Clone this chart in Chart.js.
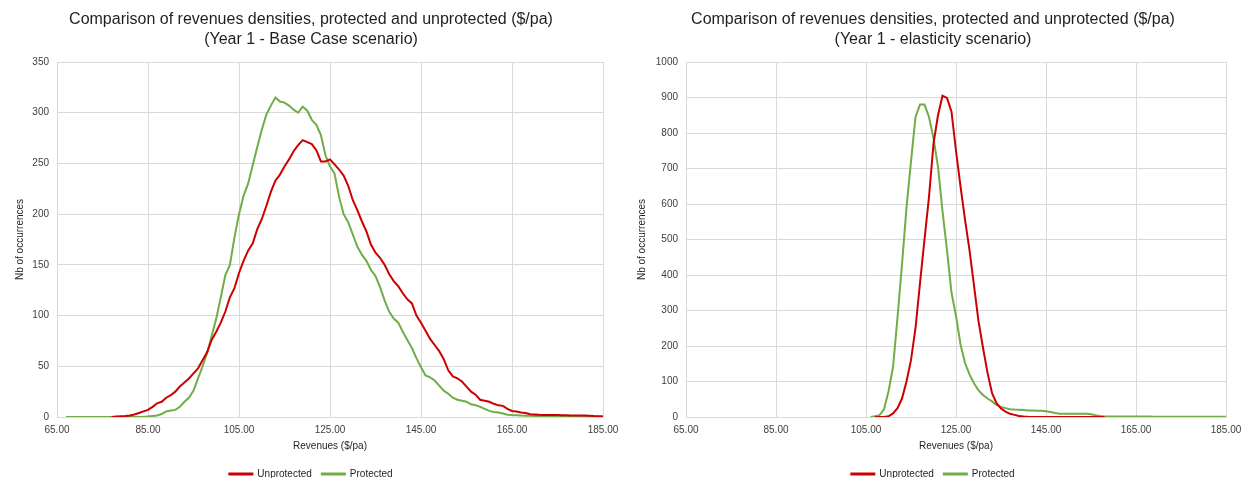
<!DOCTYPE html>
<html>
<head>
<meta charset="utf-8">
<script src="https://cdn.jsdelivr.net/npm/chart.js@4.4.1/dist/chart.umd.min.js"></script>
<style>
  html, body { margin: 0; padding: 0; background: #ffffff; }
  #wrap { position: relative; width: 1244px; height: 478px; }
  .panel { position: absolute; top: 0; width: 622px; height: 478px; }
</style>
</head>
<body>
<div id="wrap">
  <div class="panel" style="left:0"><canvas id="baseCase" width="622" height="478"></canvas></div>
  <div class="panel" style="left:622px"><canvas id="elasticity" width="622" height="478"></canvas></div>
</div>
<script>
// Revenue bins ($/pa), shared by both histograms
const revenueBins = [
  65, 66, 67, 68, 69, 70, 71, 72, 73, 74,
  75, 76, 77, 78, 79, 80, 81, 82, 83, 84,
  85, 86, 87, 88, 89, 90, 91, 92, 93, 94,
  95, 96, 97, 98, 99, 100, 101, 102, 103, 104,
  105, 106, 107, 108, 109, 110, 111, 112, 113, 114,
  115, 116, 117, 118, 119, 120, 121, 122, 123, 124,
  125, 126, 127, 128, 129, 130, 131, 132, 133, 134,
  135, 136, 137, 138, 139, 140, 141, 142, 143, 144,
  145, 146, 147, 148, 149, 150, 151, 152, 153, 154,
  155, 156, 157, 158, 159, 160, 161, 162, 163, 164,
  165, 166, 167, 168, 169, 170, 171, 172, 173, 174,
  175, 176, 177, 178, 179, 180, 181, 182, 183, 184,
  185
];

// Year 1 - Base Case: number of occurrences per bin
const baseUnprotected = [
  null, null, null, null, null, null, null, null, null, null,
  null, null, 0, 0.5, 0.8, 1, 1.5, 2.5, 4, 5.5,
  7, 10, 13.5, 15, 19, 21.5, 25, 30, 34, 38,
  43, 48, 56, 64, 76, 84, 93, 104, 118, 127,
  142, 154, 164, 171, 185, 195, 208, 222, 233, 239,
  247, 254, 262, 268, 273, 271, 269, 263, 252, 252,
  254, 249, 244, 238, 228, 214, 204, 193, 183, 170,
  162, 157, 150, 141, 134, 129, 122, 116, 112, 100,
  93, 85, 77, 71, 65, 57, 46, 40, 38, 35,
  30, 25, 22, 17, 16, 15, 13, 11.5, 11, 8,
  6, 5.5, 4.5, 4, 2.8, 2.5, 2.2, 2, 2, 2,
  2, 1.8, 1.8, 1.5, 1.5, 1.5, 1.4, 1.3, 1, 0.8,
  0.6
];
const baseProtected = [
  null, null, 0, 0, 0, 0, 0, 0, 0, 0,
  0, 0, 0, 0, 0, 0, 0, 0, 0, 0,
  0.5, 1, 1.5, 3, 5.5, 6.5, 7, 10, 15, 19,
  26, 38, 50, 63, 80, 97, 118, 140, 150, 177,
  200, 218, 230, 248, 266, 283, 298, 307, 315, 311,
  310, 307, 303, 300, 306, 302, 293, 288, 278, 258,
  247, 240, 217, 200, 192, 180, 168, 160, 154, 145,
  139, 128, 115, 104, 97, 93, 84, 76, 68, 58,
  49, 41, 39, 36, 31, 26, 23, 19, 17, 16,
  15, 12.5, 11.5, 10, 8, 6, 5, 4.5, 3.5, 2.3,
  2, 1.8, 1.5, 1.3, 1.2, 1.1, 1, 1, 0.9, 0.9,
  0.8, 0.8, 0.8, 0.7, 0.7, 0.7, 0.6, 0.6, 0.6, 0.5,
  0.5
];

// Year 1 - elasticity scenario: number of occurrences per bin
const elasticUnprotected = [
  null, null, null, null, null, null, null, null, null, null,
  null, null, null, null, null, null, null, null, null, null,
  null, null, null, null, null, null, null, null, null, null,
  null, null, null, null, null, null, null, null, null, null,
  null, null, 0, 0, 0, 2, 10, 25, 52, 100,
  160, 250, 377, 500, 620, 770, 850, 905, 899, 860,
  750, 650, 556, 470, 370, 270, 195, 125, 68, 39,
  24, 15, 9, 6, 3, 1.5, 0.5, 0, 0, 0,
  0, 0, 0, 0, 0, 0, 0, 0, 0, 0,
  0, 0, 0, 0, null, null, null, null, null, null,
  null, null, null, null, null, null, null, null, null, null,
  null, null, null, null, null, null, null, null, null, null,
  null
];
const elasticProtected = [
  null, null, null, null, null, null, null, null, null, null,
  null, null, null, null, null, null, null, null, null, null,
  null, null, null, null, null, null, null, null, null, null,
  null, null, null, null, null, null, null, null, null, null,
  null, 0, 2, 5, 22, 72, 140, 280, 430, 590,
  720, 845, 880, 880, 845, 785, 705, 580, 470, 350,
  285, 205, 152, 120, 95, 75, 62, 52, 44, 34,
  28, 25, 22, 21, 20.6, 20, 18, 18, 17.8, 17.8,
  16, 14, 11, 9.3, 9.3, 9.3, 9.3, 9.3, 9.3, 9.3,
  8, 5, 3, 1.7, 1.7, 1.7, 1.7, 1.7, 1.7, 1.7,
  1.7, 1.7, 1.7, 1.7, 1, 0.5, 0.5, 0.5, 0.5, 0.5,
  0.5, 0.5, 0.5, 0.5, 0.5, 0.5, 0.5, 0.5, 0.5, 0.5,
  0.5
];

const seriesNames = ['Unprotected', 'Protected'];
const baseTitle = ['Comparison of revenues densities, protected and unprotected ($/pa)', '(Year 1 - Base Case scenario)'];
const elasticTitle = ['Comparison of revenues densities, protected and unprotected ($/pa)', '(Year 1 - elasticity scenario)'];
const xAxisTitle = 'Revenues ($/pa)';
const yAxisTitle = 'Nb of occurrences';

const FONT = '"Liberation Sans", Arial, Helvetica, sans-serif';
const RED = '#cc0000';
const GREEN = '#70ad47';
const GRID = '#d9d9d9';
const TEXT = '#1f1f1f';
const TICK = '#404040';

function points(values) {
  return revenueBins.map((x, i) => ({ x: x, y: values[i] }));
}

function buildChart(id, title, unprotected, protectedVals, yMax, yStep, yAxisWidth, rightGap) {
  return new Chart(document.getElementById(id), {
    type: 'line',
    data: {
      datasets: [
        { label: seriesNames[0], data: points(unprotected), borderColor: RED, backgroundColor: RED },
        { label: seriesNames[1], data: points(protectedVals), borderColor: GREEN, backgroundColor: GREEN }
      ]
    },
    options: {
      responsive: false,
      animation: false,
      devicePixelRatio: 1,
      layout: { padding: { left: 0, right: 0, top: 0, bottom: -11 } },
      elements: {
        point: { radius: 0, hoverRadius: 0 },
        line: { tension: 0, borderWidth: 2, fill: false }
      },
      plugins: {
        title: {
          display: true,
          text: title,
          color: TEXT,
          font: { family: FONT, size: 16, weight: 'normal', lineHeight: '20px' },
          padding: { top: 10, bottom: 12 }
        },
        legend: {
          position: 'bottom',
          labels: {
            boxWidth: 23,
            boxHeight: 1,
            padding: 10,
            color: TEXT,
            font: { family: FONT, size: 10 }
          }
        },
        tooltip: { enabled: false }
      },
      scales: {
        x: {
          type: 'linear',
          min: 65,
          max: 185,
          ticks: {
            stepSize: 20,
            padding: 7,
            maxRotation: 0,
            color: TICK,
            font: { family: FONT, size: 10 },
            callback: (v) => Number(v).toFixed(2)
          },
          grid: { color: GRID, drawTicks: false },
          border: { color: GRID },
          title: {
            display: true,
            text: xAxisTitle,
            color: TEXT,
            font: { family: FONT, size: 10 },
            padding: { top: 0, bottom: 7 }
          },
          afterFit(scale) {
            scale.height = 42;
            scale.paddingRight = rightGap;
          }
        },
        y: {
          min: 0,
          max: yMax,
          ticks: {
            stepSize: yStep,
            padding: 8,
            color: TICK,
            font: { family: FONT, size: 10 },
            callback: (v) => String(v)
          },
          grid: { color: GRID, drawTicks: false },
          border: { color: GRID },
          title: {
            display: true,
            text: yAxisTitle,
            color: TEXT,
            font: { family: FONT, size: 10 },
            padding: { top: 14, bottom: 0 }
          },
          afterFit(scale) {
            scale.width = yAxisWidth;
          }
        }
      }
    }
  });
}

buildChart('baseCase', baseTitle, baseUnprotected, baseProtected, 350, 50, 57, 19);
buildChart('elasticity', elasticTitle, elasticUnprotected, elasticProtected, 1000, 100, 64, 18);
</script>
</body>
</html>
